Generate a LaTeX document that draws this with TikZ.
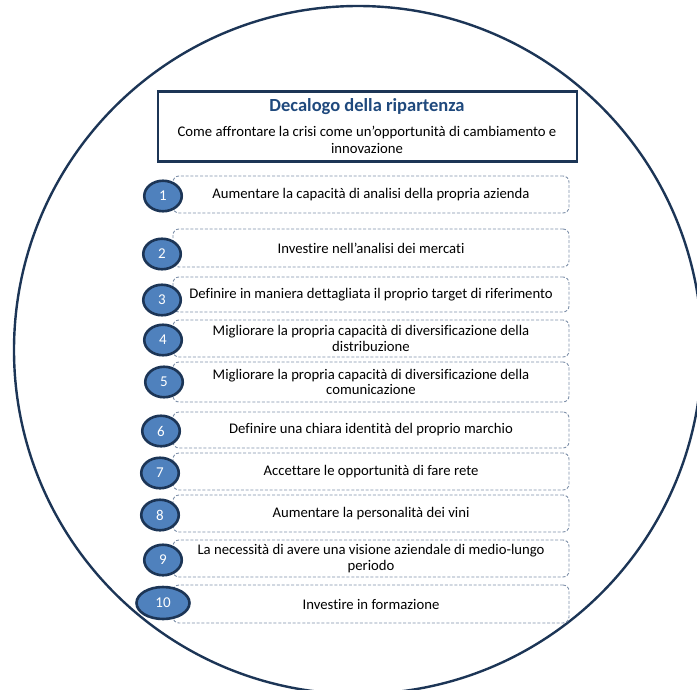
\documentclass[tikz,border=0pt]{standalone}
\usepackage{fontspec}
\setmainfont{Carlito}[Ligatures=NoCommon]
\usetikzlibrary{shapes.geometric}
\definecolor{navy}{HTML}{1C3556}
\definecolor{titleblue}{HTML}{1F497D}
\definecolor{badgefill}{HTML}{4F81BD}
\definecolor{dashgray}{HTML}{7F91AA}
\begin{document}
\begin{tikzpicture}[x=1pt,y=-1pt,
  itembox/.style={draw=dashgray, fill=white, line width=0.9pt, dash pattern=on 3pt off 1.8pt,
    rounded corners=6pt, minimum width=396pt, inner sep=0pt, align=center,
    font=\fontsize{14.7}{15.5}\selectfont},
  badge/.style={ellipse, draw=navy, line width=2.6pt, fill=badgefill, text=white, inner sep=0pt,
    minimum width=37.5pt, minimum height=30.5pt, font=\fontsize{15}{17}\selectfont},
  headbox/.style={draw=navy, fill=white, line width=2.4pt, minimum width=419pt, minimum height=70pt,
    inner sep=0pt}]
\useasboundingbox (0,0) rectangle (697,689);

% outer ring
\draw[navy, line width=2.4pt] (358,350) circle[radius=344pt];

% heading
\node[headbox] (head) at (367.5,126.5) {};
\node[font=\bfseries\fontsize{18.5}{20}\selectfont, text=titleblue] (title) at (367,107) {Decalogo della ripartenza};
\node[font=\fontsize{14.7}{16.5}\selectfont, align=center] (subtitle) at (367,140)
  {Come affrontare la crisi come un’opportunità di cambiamento e\\innovazione};

% the ten points
\node[itembox, minimum height=37pt] (b1) at (371,194.5) {Aumentare la capacità di analisi della propria azienda};
\node[itembox, minimum height=38pt] (b2) at (371,248) {Investire nell’analisi dei mercati};
\node[itembox, minimum height=35pt] (b3) at (371,294.5) {Definire in maniera dettagliata il proprio target di riferimento};
\node[itembox, minimum height=37pt] (b4) at (371,338.5) {Migliorare la propria capacità di diversificazione della\\distribuzione};
\node[itembox, minimum height=40pt] (b5) at (371,382) {Migliorare la propria capacità di diversificazione della\\comunicazione};
\node[itembox, minimum height=36pt] (b6) at (371,430) {Definire una chiara identità del proprio marchio};
\node[itembox, minimum height=37pt] (b7) at (371,471.5) {Accettare le opportunità di fare rete};
\node[itembox, minimum height=37pt] (b8) at (371,513.5) {Aumentare la personalità dei vini};
\node[itembox, minimum height=37pt] (b9) at (371,558.5) {La necessità di avere una visione aziendale di medio-lungo\\periodo};
\node[itembox, minimum height=38pt] (b10) at (371,604) {Investire in formazione};

% numbered badges
\node[badge] (n1) at (163,196) {1};
\node[badge] (n2) at (162,254) {2};
\node[badge] (n3) at (162,300) {3};
\node[badge] (n4) at (163,340) {4};
\node[badge] (n5) at (164,382) {5};
\node[badge] (n6) at (161,431) {6};
\node[badge] (n7) at (160,473) {7};
\node[badge] (n8) at (160,515) {8};
\node[badge] (n9) at (163,560) {9};
\node[badge, minimum width=53pt, minimum height=32pt] (n10) at (163,603) {10};
\end{tikzpicture}
\end{document}
